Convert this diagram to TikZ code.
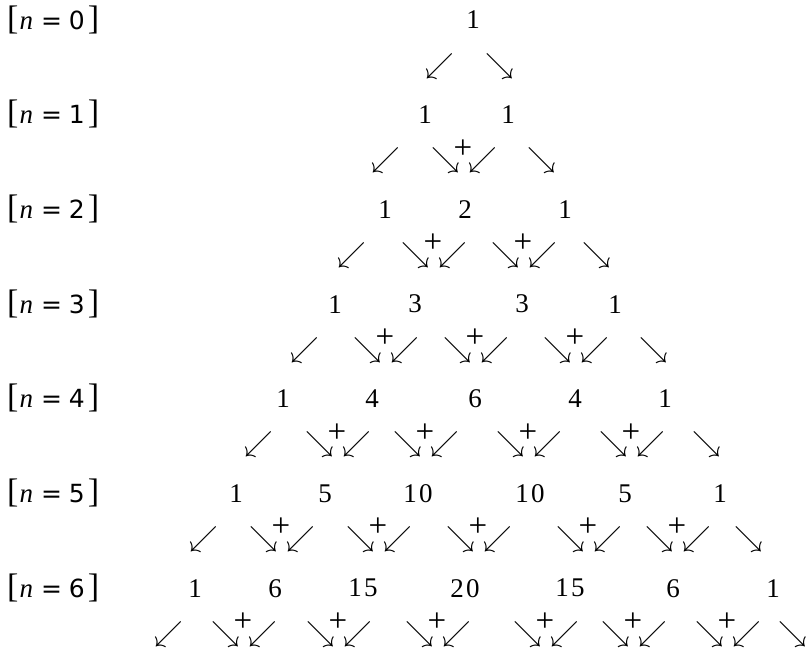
\documentclass[tikz,border=0pt]{standalone}
\usepackage{amsmath,amssymb}
\usepackage{graphicx}
\usepackage{fontspec}
\setmainfont{Liberation Serif}
\newfontfamily\labfont{DejaVu Sans}
\usepackage{tikz}
\usetikzlibrary{positioning}
\newcommand{\twodig}[2]{#1\kern2.5pt#2}
\newcommand{\bigbrk}[1]{{\rmfamily\fontsize{34}{36}\selectfont#1}}
\newcommand{\swa}{\scalebox{1.15}{$\swarrow$}}
\newcommand{\sea}{\scalebox{1.15}{$\searrow$}}

\begin{document}
\begin{tikzpicture}[x=1pt, y=-1pt,
  num/.style={inner sep=0pt, font=\fontsize{27}{30}\selectfont},
  lab/.style={anchor=base west, inner sep=0pt, font=\labfont\fontsize{25}{28}\selectfont},
  dgl/.style={inner sep=0pt, font=\fontsize{24}{28}\selectfont},
  plus/.style={inner sep=0pt, font=\fontsize{33}{36}\selectfont}]
\useasboundingbox (0,0) rectangle (807,657);
\foreach \k in {0,...,6}
  \node[lab] (n\k) at (7,29+94.7*\k) {\bigbrk{[}\kern1pt{\rmfamily\itshape\fontsize{27}{30}\selectfont n}\kern8pt=\kern7pt\k\kern3pt\bigbrk{]}};
\foreach \x/\v [count=\i] in {473/1} \node[num] (r0c\i) at (\x,20) {\v};
\foreach \x/\v [count=\i] in {425/1,508/1} \node[num] (r1c\i) at (\x,114.7) {\v};
\foreach \x/\v [count=\i] in {385/1,465/2,565/1} \node[num] (r2c\i) at (\x,209.4) {\v};
\foreach \x/\v [count=\i] in {335/1,415/3,522/3,615/1} \node[num] (r3c\i) at (\x,304.1) {\v};
\foreach \x/\v [count=\i] in {283/1,372/4,475/6,575/4,665/1} \node[num] (r4c\i) at (\x,398.8) {\v};
\foreach \x/\v [count=\i] in {236/1,325/5,418/{\twodig10},530/{\twodig10},625/5,720/1} \node[num] (r5c\i) at (\x,493.5) {\v};
\foreach \x/\v [count=\i] in {195/1,275/6,363/{\twodig15},465/{\twodig20},570/{\twodig15},673/6,773/1} \node[num] (r6c\i) at (\x,588.2) {\v};
\node[dgl] (w0) at (440,66) {\swa};
\node[dgl] (e0) at (500,66) {\sea};
\foreach \r/\lw/\rw/\plist in {1/386/542/{463}, 2/352/597/{433,523}, 3/305/654/{385,475,575},
    4/259/707/{337,425,528,631}, 5/204/749/{281,378,478,588,677}, 6/169/793/{243,338,437,545,633,727}} {
  \node[dgl] (w\r) at (\lw,66+94.7*\r) {\swa};
  \node[dgl] (e\r) at (\rw,66+94.7*\r) {\sea};
  \foreach \x [count=\i] in \plist {
    \node[plus] (p\r c\i) at (\x,54+94.7*\r) {+};
    \node[dgl] (e\r c\i) at (\x-17,66+94.7*\r) {\sea};
    \node[dgl] (w\r c\i) at (\x+20,66+94.7*\r) {\swa};
  }
}
\end{tikzpicture}
\end{document}
